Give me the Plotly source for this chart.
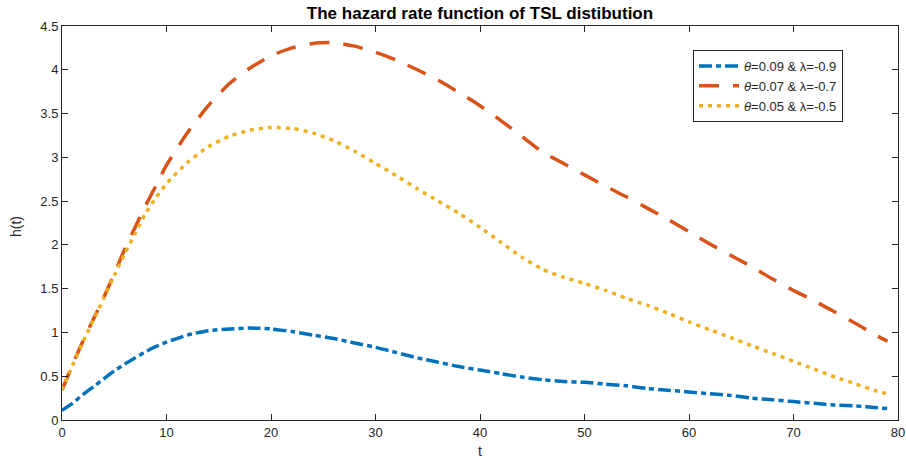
import plotly.graph_objects as go

t = [0, 1, 2, 3, 4, 5, 6, 7, 8, 9, 10, 12, 14, 16, 18, 20, 22, 24, 26, 28, 30, 32, 34, 36, 38,
     40, 42, 44, 46, 48, 50, 52, 54, 56, 58, 60, 62, 64, 66, 68, 70, 72, 74, 76, 78, 79]

h_blue = [0.11, 0.19, 0.29, 0.38, 0.47, 0.56, 0.64, 0.71, 0.78, 0.84, 0.89,
          0.97, 1.02, 1.04, 1.05, 1.04, 1.01, 0.97, 0.93,
          0.88, 0.83, 0.77, 0.71, 0.66, 0.61, 0.57, 0.53, 0.49, 0.46, 0.44, 0.43, 0.41, 0.39,
          0.36, 0.34, 0.32, 0.30, 0.28, 0.25, 0.23, 0.21, 0.19, 0.17, 0.16, 0.14, 0.13]

h_orange = [0.34, 0.63, 0.90, 1.15, 1.40, 1.67, 1.95, 2.20, 2.45, 2.68, 2.91,
            3.28, 3.59, 3.84, 4.02, 4.16, 4.25, 4.30, 4.31,
            4.27, 4.20, 4.11, 4.00, 3.88, 3.74, 3.59, 3.42, 3.24, 3.06, 2.93, 2.80, 2.67, 2.55,
            2.42, 2.29, 2.15, 2.01, 1.88, 1.75, 1.61, 1.48, 1.36, 1.23, 1.10, 0.96, 0.90]

h_yellow = [0.34, 0.62, 0.89, 1.14, 1.39, 1.65, 1.90, 2.13, 2.36, 2.54, 2.70,
            2.94, 3.12, 3.24, 3.31, 3.34, 3.33, 3.28, 3.19,
            3.07, 2.93, 2.79, 2.64, 2.50, 2.36, 2.20, 2.03, 1.86, 1.72, 1.63, 1.56, 1.48, 1.39,
            1.31, 1.22, 1.12, 1.03, 0.94, 0.85, 0.76, 0.67, 0.58, 0.49, 0.41, 0.33, 0.30]

labels = ["<i>θ</i>=0.09 &amp; λ=-0.9",
          "<i>θ</i>=0.07 &amp; λ=-0.7",
          "<i>θ</i>=0.05 &amp; λ=-0.5"]

x_ticks = [0, 10, 20, 30, 40, 50, 60, 70, 80]
y_ticks = [0, 0.5, 1, 1.5, 2, 2.5, 3, 3.5, 4, 4.5]
y_ticktext = ["0", "0.5", "1", "1.5", "2", "2.5", "3", "3.5", "4", "4.5"]

FONT = "Liberation Sans, Arial, sans-serif"

fig = go.Figure()
fig.add_trace(go.Scatter(x=t, y=h_blue, mode="lines", name=labels[0],
                         line=dict(color="#0072BD", width=3.5, dash="13px,4px,5px,4px",
                                   shape="spline", smoothing=0.6)))
fig.add_trace(go.Scatter(x=t, y=h_orange, mode="lines", name=labels[1],
                         line=dict(color="#D95319", width=3.5, dash="20px,14px",
                                   shape="spline", smoothing=0.6)))
fig.add_trace(go.Scatter(x=t, y=h_yellow, mode="lines", name=labels[2],
                         line=dict(color="#EDB120", width=3.5, dash="4px,5px",
                                   shape="spline", smoothing=0.6)))

axis_common = dict(showline=True, linecolor="#262626", linewidth=1, mirror="ticks",
                   ticks="inside", ticklen=6, tickcolor="#262626", showgrid=False,
                   zeroline=False, automargin=False,
                   tickfont=dict(size=13, color="#262626", family=FONT))

fig.update_layout(
    width=906, height=459,
    margin=dict(l=62, r=8, t=26, b=39),
    paper_bgcolor="white", plot_bgcolor="white",
    font=dict(family=FONT, color="#262626", size=13),
    title=dict(text="<b>The hazard rate function of TSL distibution</b>",
               x=480 / 906, xanchor="center", y=1 - 13 / 459, yanchor="middle",
               font=dict(size=17, color="black", family=FONT)),
    xaxis=dict(range=[0, 80], tickvals=x_ticks, ticktext=[str(v) for v in x_ticks],
               **axis_common),
    yaxis=dict(range=[0, 4.5], tickvals=y_ticks, ticktext=y_ticktext, **axis_common),
    legend=dict(x=(693 - 62) / 836, y=(420 - 50) / 394, xanchor="left", yanchor="top",
                bordercolor="#262626", borderwidth=1, bgcolor="white",
                font=dict(size=13, color="#262626", family=FONT), tracegroupgap=0,
                itemwidth=40),
    showlegend=True,
    annotations=[
        dict(text="t", xref="paper", yref="paper", x=0.5, y=(420 - 451) / 394,
             xanchor="center", yanchor="middle", showarrow=False,
             font=dict(size=14, color="#262626", family=FONT)),
        dict(text="h(t)", xref="paper", yref="paper", x=(16 - 62) / 836, y=(420 - 227) / 394,
             xanchor="center", yanchor="middle", showarrow=False, textangle=-90,
             font=dict(size=14, color="#262626", family=FONT)),
    ],
)

fig.write_html("out.html", config={"displayModeBar": False},
               post_script="document.body.style.margin='0';document.body.style.overflow='hidden';")
